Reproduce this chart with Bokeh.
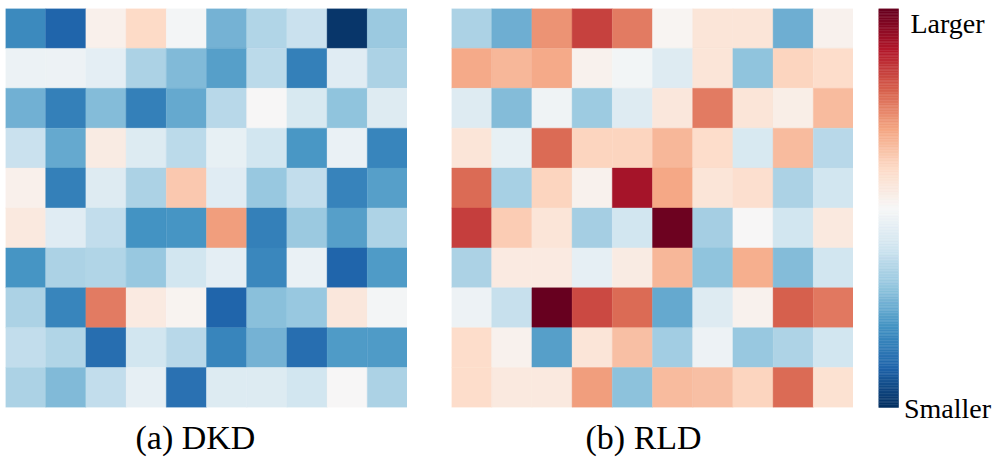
import numpy as np
from bokeh.plotting import figure
from bokeh.layouts import row
from bokeh.models import ColumnDataSource, LinearColorMapper, Range1d, Label
from bokeh.transform import transform
from bokeh.embed import file_html
from bokeh.resources import INLINE

# ---- data (-1 = smallest, 1 = largest) ----
dkd = [
    [-0.64, -0.80, 0.05, 0.20, -0.02, -0.47, -0.30, -0.22, -0.97, -0.37],
    [-0.06, -0.05, -0.10, -0.32, -0.44, -0.55, -0.27, -0.68, -0.12, -0.32],
    [-0.48, -0.68, -0.43, -0.68, -0.51, -0.28, 0.00, -0.16, -0.40, -0.13],
    [-0.22, -0.51, 0.08, -0.14, -0.27, -0.08, -0.19, -0.58, -0.07, -0.66],
    [0.05, -0.68, -0.13, -0.32, 0.27, -0.12, -0.38, -0.25, -0.67, -0.55],
    [0.10, -0.12, -0.25, -0.60, -0.59, 0.42, -0.68, -0.37, -0.55, -0.31],
    [-0.59, -0.32, -0.30, -0.38, -0.19, -0.10, -0.65, -0.07, -0.80, -0.57],
    [-0.32, -0.66, 0.52, 0.09, 0.03, -0.80, -0.42, -0.38, 0.11, -0.02],
    [-0.25, -0.30, -0.76, -0.19, -0.28, -0.66, -0.47, -0.76, -0.57, -0.57],
    [-0.32, -0.44, -0.25, -0.09, -0.75, -0.14, -0.14, -0.19, 0.00, -0.32],
]
rld = [
    [-0.32, -0.49, 0.45, 0.68, 0.52, 0.02, 0.13, 0.13, -0.49, 0.04],
    [0.38, 0.33, 0.38, 0.04, -0.03, -0.13, 0.13, -0.40, 0.22, 0.18],
    [-0.13, -0.43, -0.04, -0.36, -0.13, 0.11, 0.52, 0.13, 0.07, 0.32],
    [0.13, -0.08, 0.57, 0.22, 0.22, 0.33, 0.18, -0.16, 0.32, -0.28],
    [0.57, -0.33, 0.22, 0.04, 0.83, 0.39, 0.13, 0.17, -0.32, -0.19],
    [0.69, 0.25, 0.13, -0.34, -0.19, 0.98, -0.34, 0.00, -0.19, 0.10],
    [-0.32, 0.09, 0.09, -0.09, 0.08, 0.33, -0.40, 0.36, -0.43, -0.19],
    [-0.05, -0.23, 1.00, 0.66, 0.57, -0.51, -0.13, 0.04, 0.60, 0.53],
    [0.18, 0.04, -0.55, 0.13, 0.30, -0.35, -0.05, -0.38, -0.31, -0.19],
    [0.18, 0.10, 0.10, 0.42, -0.41, 0.32, 0.30, 0.22, 0.57, 0.15],
]
captions = ["(a) DKD", "(b) RLD"]
bar_labels = ["Larger", "Smaller"]

# ---- colour map: RdBu reversed (blue = small, red = large) ----
rdbu11 = ['#053061', '#2166ac', '#4393c3', '#92c5de', '#d1e5f0', '#f7f7f7',
          '#fddbc7', '#f4a582', '#d6604d', '#b2182b', '#67001f']

def interp_palette(hexes, n):
    rgb = np.array([[int(h[i:i + 2], 16) for i in (1, 3, 5)] for h in hexes], float)
    xs = np.linspace(0, 1, len(hexes))
    t = np.linspace(0, 1, n)
    out = []
    for k in range(n):
        c = [np.interp(t[k], xs, rgb[:, j]) for j in range(3)]
        out.append('#%02x%02x%02x' % tuple(int(round(v)) for v in c))
    return out

palette = interp_palette(rdbu11, 256)
mapper = LinearColorMapper(palette=palette, low=-1, high=1)

SERIF = "Liberation Serif"
FRAME_W = 402
FRAME_H = 399
TOP = 8
BOTTOM = 56

def heatmap(vals, caption, left_border, cap_offset):
    arr = np.array(vals)
    nr, nc = arr.shape
    rr, cc = np.meshgrid(np.arange(nr), np.arange(nc), indexing="ij")
    src = ColumnDataSource(dict(x=cc.ravel() + 0.5, y=rr.ravel() + 0.5, v=arr.ravel()))
    p = figure(frame_width=FRAME_W, frame_height=FRAME_H,
               x_range=Range1d(0, nc), y_range=Range1d(nr, 0),
               x_axis_location=None, y_axis_location=None,
               title=caption, title_location="below",
               min_border_left=left_border, min_border_right=0,
               min_border_top=TOP, min_border_bottom=BOTTOM,
               output_backend="svg", toolbar_location=None)
    p.grid.visible = False
    p.outline_line_color = None
    p.rect(x="x", y="y", width=1, height=1, source=src,
           fill_color=transform("v", mapper), line_color=transform("v", mapper),
           line_width=0.4)
    p.title.align = "left"
    p.title.offset = cap_offset
    p.title.text_font = SERIF
    p.title.text_font_size = "34px"
    p.title.text_font_style = "normal"
    p.title.text_color = "black"
    p.title.standoff = 19
    return p

pa = heatmap(dkd, captions[0], 5, 130)
pb = heatmap(rld, captions[1], 44, 134)

# ---- colour bar (its frame begins level with the heatmap frames) ----
span = mapper.high - mapper.low
extra_bottom = span * BOTTOM / FRAME_H
pc = figure(frame_width=118, frame_height=FRAME_H + BOTTOM,
            x_range=Range1d(0, 118),
            y_range=Range1d(mapper.low - extra_bottom, mapper.high),
            x_axis_location=None, y_axis_location=None, title=None,
            min_border_left=25, min_border_right=0,
            min_border_top=0, min_border_bottom=0,
            output_backend="svg", toolbar_location=None)
pc.grid.visible = False
pc.outline_line_color = None
edges = np.linspace(mapper.low, mapper.high, len(palette) + 1)
pc.quad(left=0, right=20, bottom=edges[:-1], top=edges[1:],
        fill_color=palette, line_color=palette, line_width=0.5)
for txt, yv in zip(bar_labels, [0.925, -1.005]):
    pc.add_layout(Label(x=69, y=yv, text=txt, text_align="center",
                        text_baseline="alphabetic", text_font=SERIF,
                        text_font_size="28px", text_color="black"))

layout = row(pa, pb, pc)
open("out.html", "w").write(file_html(layout, INLINE))
